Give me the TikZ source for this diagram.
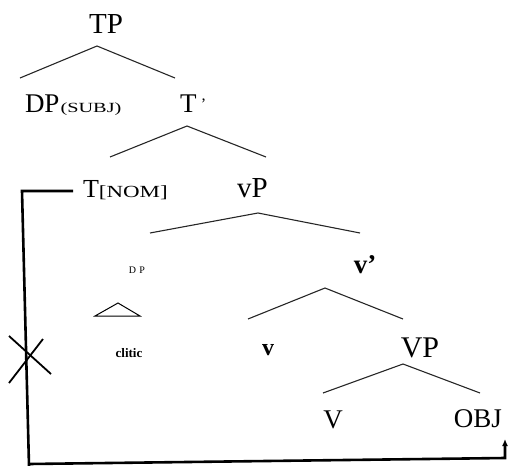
\documentclass[tikz,border=0pt]{standalone}
\usepackage{fontspec}
\setmainfont{Liberation Serif}
\usetikzlibrary{arrows.meta}
\begin{document}
\begin{tikzpicture}[x=1pt,y=-1pt,
  lbl/.style={inner sep=0pt,outer sep=0pt,anchor=base},
  big/.style={lbl,font=\fontsize{27}{27}\selectfont},
  branch/.style={line width=1.1pt,black!85},
  link/.style={line width=2.6pt,black},
  cross/.style={line width=1.8pt,black}]
\useasboundingbox (0,0) rectangle (509,466);
% labels
\node[big,font=\fontsize{29}{29}\selectfont] (tp) at (106,33) {TP};
\node[big,anchor=base west] (dp) at (25,112) {DP};
\node[lbl,anchor=base west,font=\fontsize{14}{14}\selectfont] (subj) at ([xshift=1pt]dp.base east) {\scalebox{1.45}[1]{(SUBJ)}};
\node[big,anchor=base west] (tbar) at (180,112) {T\,\raisebox{3pt}{\fontsize{16}{16}\selectfont ’}};
\node[big,anchor=base west,font=\fontsize{26}{26}\selectfont] (t) at (83,197) {T};
\node[lbl,anchor=base west,font=\fontsize{17}{17}\selectfont] (nom) at (t.base east) {\scalebox{1.35}[1]{[NOM]}};
\node[big,anchor=base west,font=\fontsize{29}{29}\selectfont] (vp) at (237,197) {vP};
\node[lbl,font=\fontsize{10}{10}\selectfont] (dpsmall) at (137,273) {D\,\,P};
\node[lbl,font=\fontsize{13}{13}\selectfont\bfseries] (clitic) at (129,357) {clitic};
\node[big,font=\fontsize{27}{27}\selectfont\bfseries] (vbar) at (365,273) {v’};
\node[big,font=\fontsize{24}{24}\selectfont\bfseries] (vsmall) at (268,355) {v};
\node[big,font=\fontsize{30}{30}\selectfont] (VP) at (420,357) {VP};
\node[big] (V) at (333,428) {V};
\node[big] (obj) at (478,427) {OBJ};
% branch coordinates
\coordinate (tpA) at (97,46);  \coordinate (tpL) at (20,78);  \coordinate (tpR) at (175,78);
\coordinate (tbA) at (187,126); \coordinate (tbL) at (110,157); \coordinate (tbR) at (266,157);
\coordinate (vpA) at (258,213); \coordinate (vpL) at (150,233); \coordinate (vpR) at (360,233);
\coordinate (vbA) at (325,288); \coordinate (vbL) at (248,319); \coordinate (vbR) at (403,319);
\coordinate (VPA) at (403,364); \coordinate (VPL) at (323,393); \coordinate (VPR) at (480,393);
\draw[branch] (tpL) -- (tpA) -- (tpR);
\draw[branch] (tbL) -- (tbA) -- (tbR);
\draw[branch] (vpL) -- (vpA) -- (vpR);
\draw[branch] (vbL) -- (vbA) -- (vbR);
\draw[branch] (VPL) -- (VPA) -- (VPR);
% triangle
\coordinate (triA) at (118,303); \coordinate (triL) at (95,316); \coordinate (triR) at (140,316);
\draw[line width=1pt,line join=miter] (triL) -- (triA) -- (triR) -- cycle;
% movement link
\coordinate (k1) at (73,191);
\coordinate (k2) at (22,191);
\coordinate (k3) at (29,466);
\coordinate (k4) at (29,464);
\coordinate (k5) at (505,458);
\coordinate (k6) at (505,439);
\draw[link] (k1) -- (k2) -- (k3);
\draw[link,-{Latex[length=7pt,width=6pt]}] (k4) -- (k5) -- (k6);
% cross
\coordinate (x1) at (9,336); \coordinate (x2) at (51,374);
\coordinate (x3) at (9,383); \coordinate (x4) at (43,339);
\draw[cross] (x1) -- (x2);
\draw[cross] (x3) -- (x4);
\end{tikzpicture}
\end{document}
